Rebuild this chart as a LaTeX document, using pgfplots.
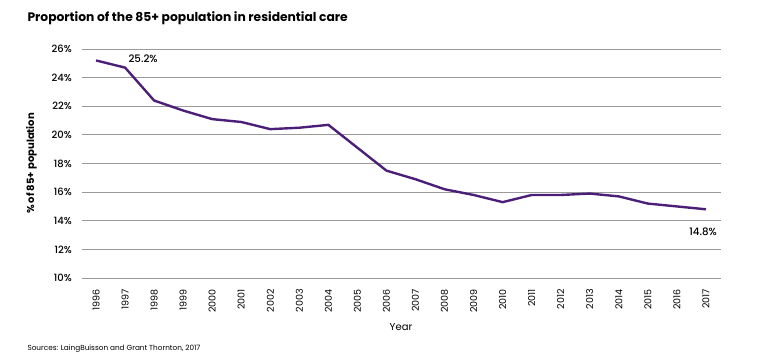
\documentclass[border=0pt]{standalone}
\usepackage{pgfplots}
\pgfplotsset{compat=1.18}
\usepackage{fontspec}
\setmainfont{Poppins}
\newfontfamily\pmed{Poppins Medium}
\definecolor{linepurple}{HTML}{4B1F78}
\definecolor{gridgray}{HTML}{9A9A9A}
\begin{document}
\begin{tikzpicture}
\path[use as bounding box] (0,0) rectangle (764bp,363bp);
\node[anchor=west,font=\fontsize{12.3bp}{14bp}\selectfont\bfseries] at (24bp,345bp) {Proportion of the 85+ population in residential care};
\node[anchor=west,font=\fontsize{7.3bp}{8bp}\selectfont] at (24bp,14bp) {Sources: LaingBuisson and Grant Thornton, 2017};
\begin{axis}[
  at={(81.5bp,85bp)}, anchor=south west,
  scale only axis, width=639bp, height=229bp,
  xmin=1995.5, xmax=2017.5, ymin=10, ymax=26,
  axis line style={draw=none},
  xtick={1996,...,2017},
  ytick={10,12,...,26},
  major tick length=0pt,
  ymajorgrids, grid style={gridgray, line width=0.9pt},
  /pgf/number format/assume math mode=true,
  /pgf/number format/1000 sep={},
  xticklabel style={rotate=90, anchor=east, font=\fontsize{9.5bp}{10bp}\selectfont, inner sep=0pt, xshift=-11bp},
  yticklabel style={font=\fontsize{10bp}{11bp}\pmed, anchor=east, inner sep=0pt, xshift=-9.5bp},
  yticklabel={\pgfmathprintnumber{\tick}\%},
  xlabel={Year},
  every axis x label/.style={at={(rel axis cs:0.5,0)}, anchor=center, yshift=-49bp, font=\fontsize{10bp}{11bp}\selectfont},
  ylabel={\% of 85+ population},
  every axis y label/.style={at={(rel axis cs:0,0.5)}, rotate=90, anchor=center, yshift=50bp, font=\fontsize{10bp}{11bp}\selectfont\bfseries},
  clip=false,
]
\addplot[linepurple, line width=2.4pt, line join=round] coordinates {
(1996,25.2) (1997,24.7) (1998,22.4) (1999,21.7) (2000,21.1) (2001,20.9)
(2002,20.4) (2003,20.5) (2004,20.7) (2005,19.1) (2006,17.5) (2007,16.9)
(2008,16.2) (2009,15.8) (2010,15.3) (2011,15.8) (2012,15.8) (2013,15.9)
(2014,15.7) (2015,15.2) (2016,15.0) (2017,14.8)
};
\node[font=\fontsize{10.3bp}{11bp}\pmed] at (axis cs:1997.62,25.3) {25.2\%};
\node[font=\fontsize{10.3bp}{11bp}\pmed] at (axis cs:2016.9,13.2) {14.8\%};
\end{axis}
\end{tikzpicture}
\end{document}
